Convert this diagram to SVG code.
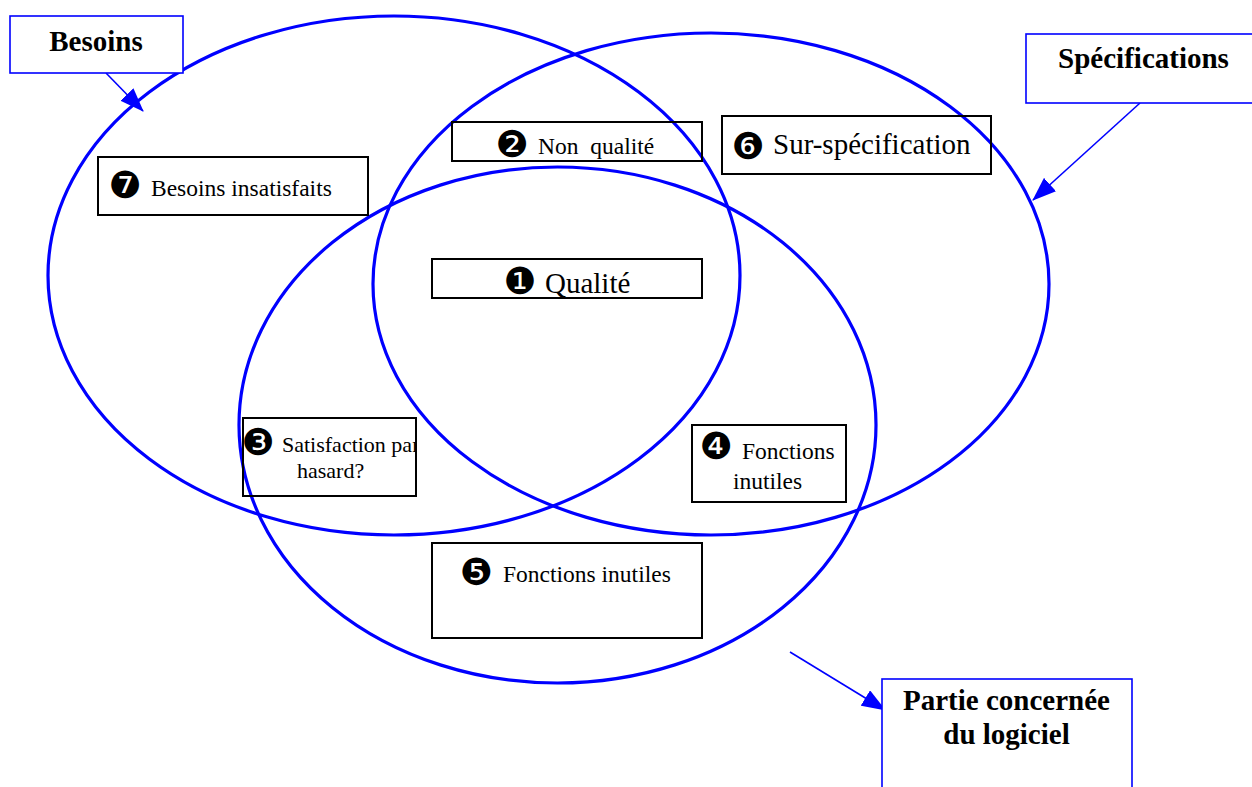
<svg xmlns="http://www.w3.org/2000/svg" width="1252" height="787" viewBox="0 0 1252 787">
<style>
.ell{fill:none;stroke:#0000ff;stroke-width:3.2}
.bbox{fill:#ffffff;stroke:#0000ff;stroke-width:1.6}
.kbox{fill:none;stroke:#000000;stroke-width:2}
.lbl{font-family:"Liberation Serif","Times New Roman",serif;font-size:23.5px;fill:#000}
.big{font-family:"Liberation Serif","Times New Roman",serif;font-size:29px;fill:#000}
.bold{font-family:"Liberation Serif","Times New Roman",serif;font-size:29px;font-weight:bold;fill:#000}
.num{font-family:"DejaVu Sans",sans-serif;font-size:37px;fill:#000;text-anchor:middle}
.con{fill:none;stroke:#0000ff;stroke-width:1.6}
</style>
<defs>
<marker id="ah" markerUnits="userSpaceOnUse" markerWidth="24" markerHeight="18" refX="23" refY="9" orient="auto">
<path d="M0,0 L24,9 L0,18 z" fill="#0000ff"/>
</marker>
<clipPath id="clip3"><rect x="243" y="418" width="173" height="78"/></clipPath>
</defs>
<rect width="1252" height="787" fill="#ffffff"/>
<g id="sets">
<ellipse class="ell" cx="394" cy="275.5" rx="346" ry="259.5"/>
<ellipse class="ell" cx="711" cy="284" rx="338" ry="251"/>
<ellipse class="ell" cx="557.5" cy="425" rx="318.5" ry="258"/>
</g>
<g id="connectors">
<line class="con" x1="106" y1="73" x2="143" y2="111" marker-end="url(#ah)"/>
<line class="con" x1="1140" y1="103" x2="1033" y2="200" marker-end="url(#ah)"/>
<line class="con" x1="790" y1="652" x2="885" y2="710" marker-end="url(#ah)"/>
</g>
<g id="besoins">
<rect class="bbox" x="10" y="16" width="173" height="57"/>
<text class="bold" x="96" y="51" text-anchor="middle">Besoins</text>
</g>
<g id="specifications">
<rect class="bbox" x="1026" y="34" width="240" height="69"/>
<text class="bold" x="1143.5" y="68" text-anchor="middle">Spécifications</text>
</g>
<g id="partie">
<rect class="bbox" x="882" y="679" width="250" height="120"/>
<text class="bold" x="1006.5" y="710" text-anchor="middle">Partie concernée</text>
<text class="bold" x="1006.5" y="744" text-anchor="middle">du logiciel</text>
</g>
<g id="n1">
<rect class="kbox" x="432" y="259" width="270" height="39"/>
<text class="num" x="520" y="294">❶</text>
<text class="big" x="545" y="293">Qualité</text>
</g>
<g id="n2">
<rect class="kbox" x="452" y="122" width="250" height="39"/>
<text class="num" x="512" y="157">❷</text>
<text class="lbl" x="538" y="154" xml:space="preserve">Non  qualité</text>
</g>
<g id="n3">
<rect class="kbox" x="243" y="418" width="173" height="78"/>
<text class="num" x="258" y="455">❸</text>
<g clip-path="url(#clip3)">
<text class="lbl" x="282" y="452" style="font-size:22px">Satisfaction par</text>
</g>
<text class="lbl" x="297" y="478" style="font-size:22px">hasard?</text>
</g>
<g id="n4">
<rect class="kbox" x="692" y="425" width="154" height="77"/>
<text class="num" x="716" y="459">❹</text>
<text class="lbl" x="742" y="459">Fonctions</text>
<text class="lbl" x="733" y="489">inutiles</text>
</g>
<g id="n5">
<rect class="kbox" x="432" y="543" width="270" height="95"/>
<text class="num" x="476" y="585">❺</text>
<text class="lbl" x="503" y="582">Fonctions inutiles</text>
</g>
<g id="n6">
<rect class="kbox" x="722" y="116" width="269" height="58"/>
<text class="num" x="748" y="159">❻</text>
<text class="big" x="773" y="154">Sur-spécification</text>
</g>
<g id="n7">
<rect class="kbox" x="98" y="157" width="270" height="58"/>
<text class="num" x="125" y="198">❼</text>
<text class="lbl" x="151" y="196">Besoins insatisfaits</text>
</g>
</svg>
